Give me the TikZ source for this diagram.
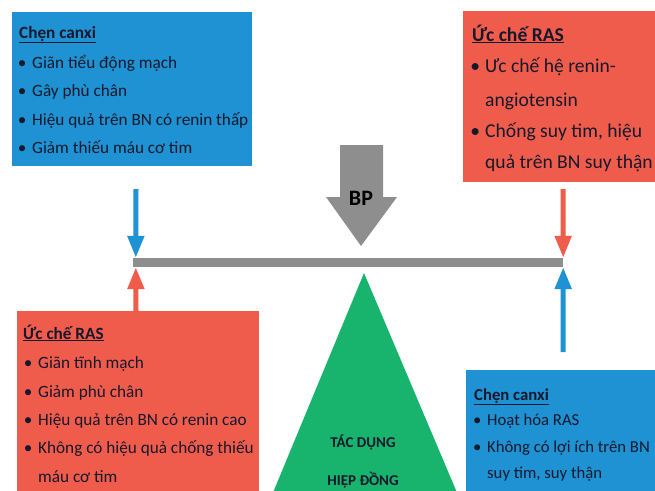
\documentclass[tikz,border=0pt]{standalone}
\usepackage{fontspec}
\setmainfont{Carlito}
\usetikzlibrary{arrows.meta}

\definecolor{boxblue}{RGB}{30,146,210}
\definecolor{boxred}{RGB}{240,92,76}
\definecolor{wedgegreen}{RGB}{24,180,110}
\definecolor{bargray}{RGB}{142,142,142}
\definecolor{ink}{RGB}{22,24,44}

% bullet centred on the node's x, text 10pt further right
\newcommand{\itm}{\makebox[0pt][c]{•}\hspace*{10pt}}
\newcommand{\cont}{\hspace*{10pt}}
\newcommand{\hd}[1]{\underline{\textbf{#1}}}

\begin{document}
\begin{tikzpicture}[x=1pt, y=-1pt,
    every node/.style={text=ink, inner sep=0pt},
    line/.style={anchor=base west, font=\fontsize{17.2}{21}\selectfont},
    bigline/.style={anchor=base west, font=\fontsize{19.6}{24}\selectfont},
    smallline/.style={anchor=base west, font=\fontsize{16.7}{20}\selectfont},
    arr/.style={line width=5pt, -{Triangle[width=16pt,length=22pt]}}]
    \clip (0,0) rectangle (655,490);
    \fill[white] (0,0) rectangle (655,490);

    % the four boxes
    \fill[boxblue] (12,12) rectangle (252,166);
    \fill[boxred] (463,11) rectangle (655,182);
    \fill[boxred] (17,311) rectangle (259,500);
    \fill[boxblue] (466,370) rectangle (655,500);

    \foreach \x/\y/\t [count=\i] in {19/38/{\hd{Chẹn canxi}}, 22/68/{\itm Giãn tiểu động mạch},
        22/96/{\itm Gây phù chân}, 22/125/{\itm Hiệu quả trên BN có renin thấp},
        22/153/{\itm Giảm thiếu máu cơ tim}}
        \node[line] (tl\i) at (\x,\y) {\t};
    \foreach \x/\y/\t [count=\i] in {472/41/{\hd{Ức chế RAS}}, 475/72/{\itm Ưc chế hệ renin-},
        475/106/{\cont angiotensin}, 475/137/{\itm Chống suy tim, hiệu},
        475/168/{\cont quả trên BN suy thận}}
        \node[bigline] (tr\i) at (\x,\y) {\t};
    \foreach \x/\y/\t [count=\i] in {23/339/{\hd{Ức chế RAS}}, 28/368/{\itm Giãn tĩnh mạch},
        28/397/{\itm Giảm phù chân}, 28/425/{\itm Hiệu quả trên BN có renin cao},
        28/453/{\itm Không có hiệu quả chống thiếu}, 28/482/{\cont máu cơ tim}}
        \node[line] (bl\i) at (\x,\y) {\t};
    \foreach \x/\y/\t [count=\i] in {474/400/{\hd{Chẹn canxi}}, 477/425/{\itm Hoạt hóa RAS},
        477/452/{\itm Không có lợi ích trên BN}, 477/478/{\cont suy tim, suy thận}}
        \node[smallline] (br\i) at (\x,\y) {\t};

    % lever and pivot
    \node[fill=bargray, minimum width=430pt, minimum height=9pt] (beam) at (348,262.5) {};
    \fill[wedgegreen] (364,273) -- (272,495) -- (458,495) -- cycle;
    \node[font=\fontsize{15}{18}\bfseries] (tac) at (363,443) {TÁC DỤNG};
    \node[font=\fontsize{15}{18}\bfseries] (hiep) at (363,480) {HIỆP ĐỒNG};

    % blood pressure pushing down
    \fill[bargray] (340,145) -- (383,145) -- (383,197) -- (397,197) -- (361,246)
        -- (326,197) -- (340,197) -- cycle;
    \node[font=\fontsize{22}{24}\bfseries, text=black] (bp) at (361,198) {BP};

    % small arrows onto the lever
    \coordinate (ldown) at (136,189);
    \coordinate (rdown) at (563,189);
    \coordinate (lup) at (136,311);
    \coordinate (rup) at (563,352);
    \draw[arr, boxblue] (ldown) -- ([xshift=3pt]beam.north west);
    \draw[arr, boxred] (rdown) -- (beam.north east);
    \draw[arr, boxred] (lup) -- ([xshift=3pt]beam.south west);
    \draw[arr, boxblue] (rup) -- (beam.south east);
\end{tikzpicture}
\end{document}
